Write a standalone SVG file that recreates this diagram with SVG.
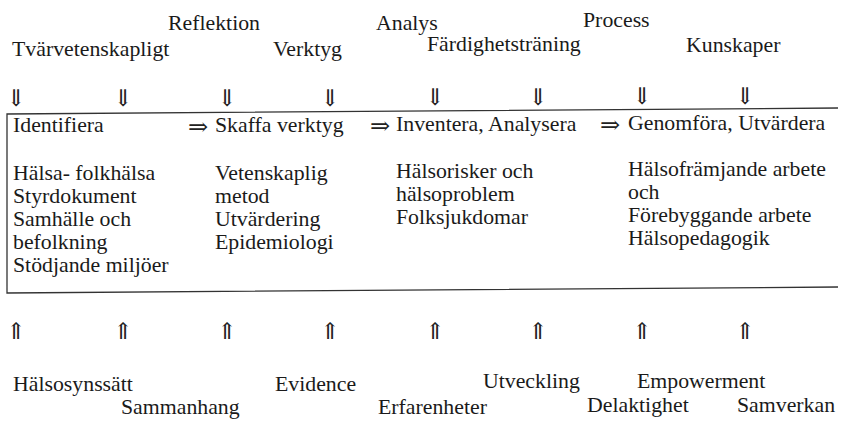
<svg xmlns="http://www.w3.org/2000/svg" width="841" height="421" viewBox="0 0 841 421">
<style>
text{font-family:"Liberation Serif","Times New Roman",serif;font-size:21.8px;fill:#1a1a1a}
.arr{font-family:"DejaVu Serif","DejaVu Sans",serif;font-size:23px;text-anchor:middle;fill:#222}
.rarr{font-family:"DejaVu Serif","DejaVu Sans",serif;font-size:24px;fill:#222}
.box{fill:none;stroke:#333;stroke-width:1.3}
</style>
<rect width="841" height="421" fill="#fff"/>
<g id="top-labels">
<text x="168" y="30">Reflektion</text>
<text x="376" y="30">Analys</text>
<text x="583" y="27">Process</text>
<text x="12" y="56">Tvärvetenskapligt</text>
<text x="273" y="56">Verktyg</text>
<text x="427" y="51">Färdighetsträning</text>
<text x="686" y="52">Kunskaper</text>
</g>
<g id="down-arrows">
<text class="arr" x="16" y="106">⇓</text>
<text class="arr" x="123" y="106">⇓</text>
<text class="arr" x="227" y="106">⇓</text>
<text class="arr" x="330" y="106">⇓</text>
<text class="arr" x="435" y="105">⇓</text>
<text class="arr" x="538" y="105">⇓</text>
<text class="arr" x="642" y="104">⇓</text>
<text class="arr" x="745" y="104">⇓</text>
</g>
<g id="frame">
<path class="box" d="M838,108 L7,114 L7,293 L838,287"/>
</g>
<g id="col-identifiera">
<text x="13" y="132">Identifiera</text>
<text x="13" y="180">Hälsa- folkhälsa</text>
<text x="13" y="203">Styrdokument</text>
<text x="13" y="226">Samhälle och</text>
<text x="13" y="249">befolkning</text>
<text x="13" y="272">Stödjande miljöer</text>
</g>
<g id="col-skaffa">
<text class="rarr" x="188" y="135">⇒</text>
<text x="215" y="132">Skaffa verktyg</text>
<text x="215" y="180">Vetenskaplig</text>
<text x="215" y="203">metod</text>
<text x="215" y="226">Utvärdering</text>
<text x="215" y="249">Epidemiologi</text>
</g>
<g id="col-inventera">
<text class="rarr" x="370" y="134">⇒</text>
<text x="396" y="131">Inventera, Analysera</text>
<text x="396" y="178">Hälsorisker och</text>
<text x="396" y="201">hälsoproblem</text>
<text x="396" y="224">Folksjukdomar</text>
</g>
<g id="col-genomfora">
<text class="rarr" x="600" y="133">⇒</text>
<text x="628" y="130">Genomföra, Utvärdera</text>
<text x="628" y="176">Hälsofrämjande arbete</text>
<text x="628" y="199">och</text>
<text x="628" y="222">Förebyggande arbete</text>
<text x="628" y="245">Hälsopedagogik</text>
</g>
<g id="up-arrows">
<text class="arr" x="16" y="339">⇑</text>
<text class="arr" x="123" y="339">⇑</text>
<text class="arr" x="227" y="339">⇑</text>
<text class="arr" x="330" y="339">⇑</text>
<text class="arr" x="435" y="339">⇑</text>
<text class="arr" x="538" y="339">⇑</text>
<text class="arr" x="642" y="339">⇑</text>
<text class="arr" x="745" y="339">⇑</text>
</g>
<g id="bottom-labels">
<text x="13" y="391">Hälsosynssätt</text>
<text x="121" y="414">Sammanhang</text>
<text x="275" y="391">Evidence</text>
<text x="378" y="414">Erfarenheter</text>
<text x="483" y="388">Utveckling</text>
<text x="587" y="412">Delaktighet</text>
<text x="637" y="388">Empowerment</text>
<text x="737" y="412">Samverkan</text>
</g>
</svg>
